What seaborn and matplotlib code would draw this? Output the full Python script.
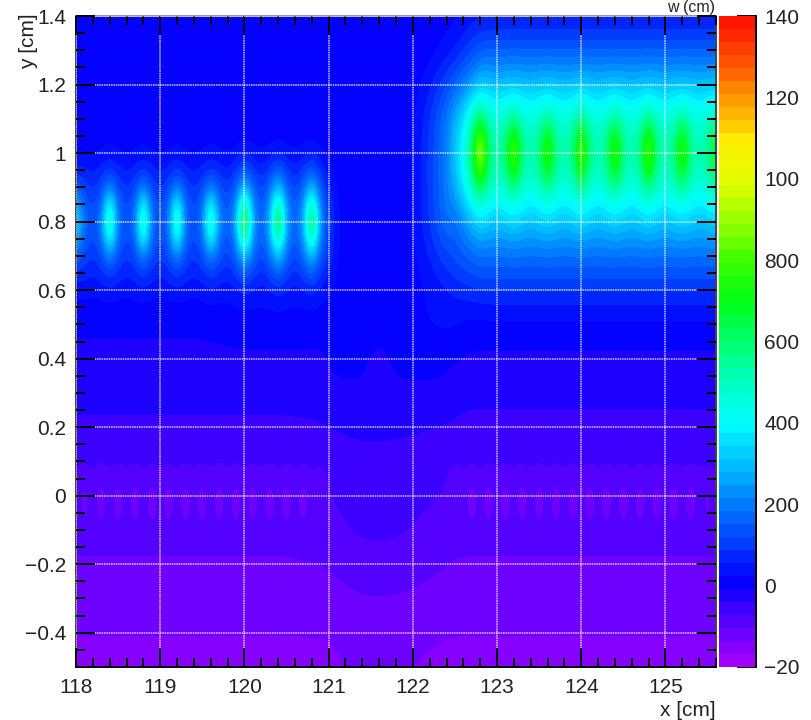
import numpy as np
import matplotlib
matplotlib.use("Agg")
import matplotlib.pyplot as plt
from matplotlib.colors import BoundaryNorm, ListedColormap
from matplotlib.ticker import MultipleLocator
import seaborn as sns

# ---- data ----------------------------------------------------------------
X_START, X_STEP, X_COUNT = 118.0, 0.1, 77
Y_VALUES = [1.4, 1.3, 1.2, 1.1, 1.0, 0.9, 0.8, 0.7, 0.6, 0.5, 0.4, 0.3, 0.2, 0.1,
            0.0, -0.1, -0.2, -0.3, -0.4, -0.5]

# left block: 118.0 .. 120.9 (30 columns)
L_14 = [0] * 30
L_13 = [0] * 30
L_12 = [0] * 30
L_11 = [0] * 30
L_10 = [10,12,12,16,25, 16,12,16,25, 16,12,16,25, 16,12,16,25, 18,14,20,30, 22,16,22,34, 22,16,22,32, 18]
L_09 = [125,110,85,115,170, 120,85,115,165, 115,85,115,165, 115,85,115,165, 130,95,155,265, 170,105,175,285, 170,105,170,275, 145]
L_08 = [470,195,130,200,770, 200,130,195,750, 195,130,195,750, 195,130,195,730, 250,150,280,980, 280,160,280,900, 280,160,280,880, 260]
L_07 = [125,110,90,120,175, 125,90,120,170, 120,90,120,170, 120,90,120,175, 135,100,160,265, 175,110,180,295, 175,110,175,285, 145]
L_06 = [30,32,28,32,40, 32,28,32,40, 32,28,32,40, 34,30,34,42, 36,32,38,48, 42,36,42,50, 42,36,42,48, 38]
L_05 = [-5] * 16 + [-2,0,2,4,6,8,8,8,8,8,8,8,6,4]
L_04 = [-14] * 30
L_03 = [-30] * 28 + [-28,-25]
L_02 = [-45] * 25 + [-45,-44,-44,-43,-43]
L_01 = [-62] * 25 + [-62,-61,-61,-60,-60]
L_00 = [-84,-140,-84,-148,-84,-148,-84,-148,-84,-148,-84,-148,-84,-148,-84,-148,
        -84,-148,-84,-148,-84,-148,-84,-148,-84,-148,-84,-148,-82,-135]
L_n1 = [-90] * 30
L_n2 = [-109] * 25 + [-108,-107,-106,-105,-103]
L_n3 = [-122] * 25 + [-121,-120,-120,-119,-118]
L_n4 = [-134] * 28 + [-133,-132]
L_n5 = [-150] * 30

# middle block: 121.0 .. 122.4 (15 columns)
M_14 = [0,0,0,0,0,0,0,0,0,0,0,0,2,5,10]
M_13 = [0,0,0,0,0,0,0,0,0,0,0,3,8,18,35]
M_12 = [0,0,0,0,0,0,0,0,0,2,8,25,50,85,120]
M_11 = [0,0,0,0,0,0,0,0,0,5,20,50,90,140,200]
M_10 = [8,2,0,0,0,0,0,0,2,8,25,55,100,150,210]
M_09 = [70,20,3,0,0,0,0,0,2,8,25,55,100,150,205]
M_08 = [110,35,8,0,0,0,0,2,4,10,25,55,95,140,190]
M_07 = [90,28,6,0,0,0,0,0,2,6,16,35,60,85,110]
M_06 = [25,8,0,0,0,0,0,0,0,3,8,18,30,40,50]
M_05 = [5,2,0,0,0,0,0,0,0,0,2,15,26,30,30]
M_04 = [-7,-5,-4,-4,-5,-9,-13,-9,-5,-4,-4,-4,-4,-4,-5]
M_03 = [-12,-10,-9,-9,-10,-14,-18,-14,-10,-9,-9,-9,-9,-10,-12]
M_02 = [-42,-40,-38,-36,-35,-35,-35,-35,-36,-37,-38,-39,-41,-43,-45]
M_01 = [-58,-54,-51,-49,-48,-48,-48,-48,-49,-50,-52,-54,-56,-58,-60]
M_00 = [-74,-69,-65,-62,-60,-60,-60,-60,-61,-63,-65,-67,-70,-73,-75]
M_n1 = [-84,-78,-73,-69,-67,-66,-66,-66,-67,-69,-72,-75,-79,-82,-85]
M_n2 = [-102,-97,-92,-88,-85,-84,-84,-84,-85,-87,-90,-93,-97,-100,-103]
M_n3 = [-118,-115,-112,-109,-107,-106,-106,-106,-107,-108,-110,-112,-115,-117,-119]
M_n4 = [-132,-129,-126,-125,-124,-124,-124,-124,-125,-125,-126,-127,-129,-131,-133]
M_n5 = [-148,-142,-136,-135,-134,-134,-134,-134,-135,-136,-138,-140,-143,-146,-148]

# right block: 122.5 .. 125.6 (32 columns)
R_14 = [18,24,32,38] + [40] * 28
R_13 = [50,80,110,140] + [150] * 28
R_12 = [160,205,250,315, 305,295,305,315, 305,295,305,312, 305,295,305,315,
        305,295,305,312, 305,295,305,315, 305,295,305,312, 305,295,305,310]
R_11 = [280,370,490,620, 510,470,500,560, 495,460,495,545, 495,460,495,560,
        495,460,495,548, 495,460,495,560, 495,460,495,548, 495,460,495,520]
R_10 = [320,430,620,1150, 610,530,610,1010, 585,520,585,930, 585,520,585,1010,
        585,520,585,940, 585,520,585,1010, 585,520,585,930, 575,510,570,780]
R_09 = [280,380,500,630, 520,470,500,560, 490,450,490,545, 490,450,490,560,
        490,450,490,545, 490,450,490,560, 490,450,490,545, 490,450,490,520]
R_08 = [170,230,290,345, 320,300,320,345, 320,300,320,340, 320,300,320,345,
        320,300,320,340, 320,300,320,345, 320,300,320,340, 320,300,320,335]
R_07 = [130,150,165,180] + [180] * 28
R_06 = [62,72,78,85] + [90] * 28
R_05 = [26,15,8,8] + [8] * 28
R_04 = [-7,-10,-12,-12] + [-12] * 28
R_03 = [-24,-30,-34,-34] + [-34] * 28
R_02 = [-46,-47,-47,-47] + [-47] * 28
R_01 = [-61] + [-62] * 31
R_00 = [-135,-85,-148,-85,-148,-85,-148,-85,-148,-85,-148,-85,-148,-85,-148,-85,
        -148,-85,-148,-85,-148,-85,-148,-85,-148,-85,-148,-85,-148,-85,-135,-85]
R_n1 = [-90] * 32
R_n2 = [-107,-108,-109,-109] + [-109] * 28
R_n3 = [-120,-121,-122,-122] + [-122] * 28
R_n4 = [-134] * 32
R_n5 = [-150] * 32

ROWS = [L_14 + M_14 + R_14, L_13 + M_13 + R_13, L_12 + M_12 + R_12, L_11 + M_11 + R_11,
        L_10 + M_10 + R_10, L_09 + M_09 + R_09, L_08 + M_08 + R_08, L_07 + M_07 + R_07,
        L_06 + M_06 + R_06, L_05 + M_05 + R_05, L_04 + M_04 + R_04, L_03 + M_03 + R_03,
        L_02 + M_02 + R_02, L_01 + M_01 + R_01, L_00 + M_00 + R_00, L_n1 + M_n1 + R_n1,
        L_n2 + M_n2 + R_n2, L_n3 + M_n3 + R_n3, L_n4 + M_n4 + R_n4, L_n5 + M_n5 + R_n5]

Y_TICKS = [-0.4, -0.2, 0, 0.2, 0.4, 0.6, 0.8, 1, 1.2, 1.4]
Y_LABELS = ["\u22120.4", "\u22120.2", "0", "0.2", "0.4", "0.6", "0.8", "1", "1.2", "1.4"]
X_TICKS = [118, 119, 120, 121, 122, 123, 124, 125]
X_LABELS = ["118", "119", "120", "121", "122", "123", "124", "125"]
CB_TICKS = [-200, 0, 200, 400, 600, 800, 1000, 1200, 1400]
CB_LABELS = ["\u221220", "0", "200", "400", "600", "800", "100", "120", "140"]
ANCHORS = [(160,0,255),(80,0,255),(0,0,255),(0,65,255),(0,130,255),(0,195,255),(0,255,255),
           (0,255,190),(0,255,110),(0,255,20),(60,255,0),(150,255,0),(225,255,0),(255,240,0),
           (255,160,0),(255,85,0),(255,20,0)]

# ---- figure --------------------------------------------------------------
sns.set_theme(style="ticks")
plt.rcParams["font.family"] = ["Liberation Sans", "DejaVu Sans"]
W, H = 812, 720
fig = plt.figure(figsize=(W / 100, H / 100), dpi=100, facecolor="white")


def box(l, r, t, b):
    return [l / W, 1 - b / H, (r - l) / W, (b - t) / H]


ax = fig.add_axes(box(76, 716, 16, 667))
cax = fig.add_axes(box(719, 756, 16, 667))

N_BANDS = 50
levels = np.linspace(-200, 1400, N_BANDS + 1)
palette = sns.blend_palette([tuple(c / 255 for c in a) for a in ANCHORS], n_colors=N_BANDS)
cmap = ListedColormap(palette)
norm = BoundaryNorm(levels, N_BANDS, clip=True)

Z = np.array(ROWS, dtype=float)
x_low, x_high = X_START - X_STEP / 2, X_START + X_STEP * (X_COUNT - 1) + X_STEP / 2
y_step = Y_VALUES[0] - Y_VALUES[1]
ax.imshow(Z, extent=[x_low, x_high, Y_VALUES[-1] - y_step / 2, Y_VALUES[0] + y_step / 2],
          origin="upper", aspect="auto", cmap=cmap, norm=norm,
          interpolation="bicubic", interpolation_stage="data")
ax.set_xlim(118, 125.6)
ax.set_ylim(-0.5, 1.4)

ax.set_xticks(X_TICKS, X_LABELS)
ax.set_yticks(Y_TICKS, Y_LABELS)
ax.xaxis.set_minor_locator(MultipleLocator(0.2))
ax.yaxis.set_minor_locator(MultipleLocator(0.05))
ax.tick_params(which="major", direction="in", length=13.7, width=1.4, color="black",
               top=True, right=True, labelsize=15, labelcolor="#222222")
ax.tick_params(which="minor", direction="in", length=6.8, width=1.4, color="black",
               top=True, right=True)
ax.tick_params(axis="y", which="major", pad=7)
ax.tick_params(axis="x", which="major", pad=8)
for t in ax.yaxis.get_major_ticks():
    t.tick1line.set_color("#555555")
for t in ax.xaxis.get_major_ticks():
    t.tick1line.set_color("#555555")
ax.grid(which="major", color="white", alpha=0.6, linewidth=1.4, linestyle=(0, (0.8, 0.4)))
ax.set_axisbelow(False)
ax.spines["bottom"].set_color("black")
ax.spines["left"].set_color("#444444")
ax.spines["right"].set_color("#444444")
ax.spines["top"].set_color("#999999")
for s in ax.spines.values():
    s.set_linewidth(1.4)

# colour scale
cax.pcolormesh([0, 1], levels, np.array(levels[:-1] + np.diff(levels) / 2)[:, None],
               cmap=cmap, norm=norm, shading="flat")
cax.set_xlim(0, 1)
cax.set_ylim(-200, 1400)
cax.set_xticks([])
cax.yaxis.tick_right()
cax.set_yticks(CB_TICKS, CB_LABELS)
cax.tick_params(axis="y", direction="in", length=14, width=1.4, color="black",
                labelsize=15, pad=6, labelcolor="#222222")
for side in ("left", "top", "bottom"):
    cax.spines[side].set_visible(False)
cax.spines["right"].set_color("black")
cax.spines["right"].set_linewidth(1.4)

# labels placed as in the original
fig.text(29 / W, 1 - 13 / H, "y [cm]", rotation=90, ha="center", va="top",
         fontsize=15, color="#222222")
fig.text(716 / W, 1 - 710 / H, "x [cm]", ha="right", va="center", fontsize=15, color="#222222")
fig.text(715 / W, 1 - 12 / H, "w (cm)", ha="right", va="baseline", fontsize=11.5, color="#222222")

fig.savefig("out.png", dpi=100)
